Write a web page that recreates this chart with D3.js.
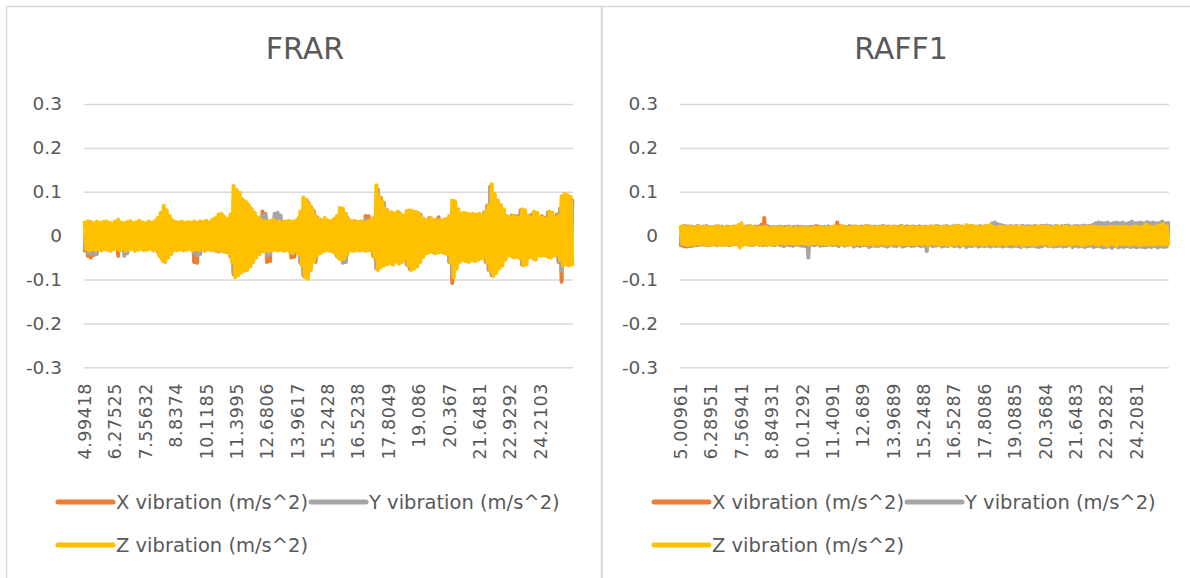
<!DOCTYPE html>
<html>
<head>
<meta charset="utf-8">
<script src="https://cdn.jsdelivr.net/npm/d3@7"></script>
<style>
  html, body { margin: 0; padding: 0; background: #ffffff; }
  svg { display: block; }
  text { font-family: "DejaVu Sans", "Liberation Sans", sans-serif; fill: #595959; }
</style>
</head>
<body>
<svg id="chart" width="1190" height="578"></svg>
<script>
// ---- FRAR: acceleration samples per axis (m/s^2) ----
const frarTicks = ["4.99418","6.27525","7.55632","8.8374","10.1185","11.3995","12.6806","13.9617",
  "15.2428","16.5238","17.8049","19.086","20.367","21.6481","22.9292","24.2103"];

const frarX = [
  -0.034,0.024,-0.046,0.026,-0.050,0.025,-0.044,0.027,-0.036,0.024,
  -0.028,0.026,-0.027,0.028,-0.026,0.025,-0.028,0.027,-0.025,0.026,
  -0.027,0.028,-0.046,0.029,-0.026,0.027,-0.028,0.026,-0.027,0.028,
  -0.026,0.027,-0.028,0.025,-0.027,0.028,-0.026,0.027,-0.028,0.026,
  -0.027,0.026,-0.028,0.027,-0.026,0.028,-0.027,0.030,-0.036,0.038,
  -0.048,0.045,-0.058,0.050,-0.046,0.040,-0.038,0.034,-0.030,0.028,
  -0.027,0.028,-0.026,0.027,-0.028,0.026,-0.027,0.028,-0.026,0.027,
  -0.028,0.027,-0.060,0.028,-0.062,0.026,-0.028,0.027,-0.026,0.028,
  -0.027,0.028,-0.026,0.030,-0.030,0.032,-0.034,0.035,-0.036,0.040,
  -0.034,0.045,-0.036,0.036,-0.035,0.035,-0.048,0.045,-0.088,0.100,
  -0.085,0.092,-0.080,0.084,-0.074,0.078,-0.072,0.072,-0.066,0.062,
  -0.055,0.052,-0.046,0.042,-0.038,0.036,-0.034,0.055,-0.032,0.050,
  -0.060,0.030,-0.058,0.031,-0.030,0.032,-0.029,0.030,-0.031,0.029,
  -0.030,0.031,-0.029,0.030,-0.031,0.032,-0.050,0.030,-0.048,0.031,
  -0.036,0.040,-0.062,0.052,-0.090,0.080,-0.092,0.076,-0.074,0.065,
  -0.055,0.055,-0.060,0.042,-0.038,0.036,-0.033,0.032,-0.032,0.031,
  -0.032,0.031,-0.033,0.034,-0.036,0.038,-0.046,0.044,-0.052,0.058,
  -0.048,0.048,-0.040,0.040,-0.032,0.033,-0.030,0.032,-0.031,0.030,
  -0.031,0.030,-0.032,0.031,-0.030,0.045,-0.031,0.044,-0.032,0.032,
  -0.046,0.038,-0.074,0.105,-0.070,0.086,-0.066,0.075,-0.060,0.058,
  -0.060,0.050,-0.062,0.050,-0.056,0.048,-0.060,0.052,-0.056,0.046,
  -0.050,0.044,-0.066,0.054,-0.076,0.056,-0.073,0.053,-0.068,0.052,
  -0.058,0.048,-0.046,0.038,-0.038,0.034,-0.036,0.040,-0.035,0.034,
  -0.038,0.035,-0.036,0.042,-0.035,0.034,-0.038,0.036,-0.040,0.036,
  -0.060,0.043,-0.108,0.078,-0.074,0.058,-0.058,0.048,-0.052,0.050,
  -0.056,0.049,-0.058,0.047,-0.054,0.048,-0.056,0.046,-0.053,0.048,
  -0.050,0.045,-0.048,0.053,-0.060,0.068,-0.078,0.112,-0.090,0.093,
  -0.083,0.078,-0.073,0.068,-0.066,0.058,-0.053,0.045,-0.044,0.040,
  -0.044,0.046,-0.048,0.045,-0.046,0.044,-0.050,0.058,-0.066,0.056,
  -0.063,0.044,-0.048,0.046,-0.046,0.050,-0.053,0.050,-0.044,0.040,
  -0.044,0.044,-0.042,0.040,-0.046,0.053,-0.048,0.050,-0.044,0.042,
  -0.040,0.048,-0.060,0.062,-0.105,0.085,-0.064,0.084,-0.066,0.082,
  -0.064,0.080
];

const frarY = [
  -0.030,0.024,-0.040,0.026,-0.042,0.025,-0.040,0.026,-0.042,0.024,
  -0.027,0.025,-0.028,0.026,-0.027,0.025,-0.028,0.026,-0.026,0.025,
  -0.028,0.026,-0.030,0.027,-0.032,0.026,-0.046,0.027,-0.040,0.026,
  -0.027,0.026,-0.028,0.027,-0.026,0.028,-0.027,0.026,-0.028,0.027,
  -0.026,0.027,-0.027,0.026,-0.028,0.027,-0.026,0.030,-0.034,0.036,
  -0.046,0.042,-0.054,0.048,-0.044,0.038,-0.036,0.032,-0.029,0.027,
  -0.028,0.027,-0.027,0.028,-0.026,0.027,-0.028,0.026,-0.027,0.028,
  -0.027,0.026,-0.040,0.027,-0.045,0.026,-0.042,0.027,-0.028,0.026,
  -0.028,0.027,-0.027,0.029,-0.029,0.031,-0.032,0.034,-0.034,0.038,
  -0.033,0.043,-0.035,0.035,-0.034,0.034,-0.046,0.043,-0.084,0.096,
  -0.082,0.088,-0.077,0.080,-0.071,0.075,-0.069,0.069,-0.063,0.060,
  -0.052,0.050,-0.044,0.040,-0.036,0.035,-0.033,0.045,-0.031,0.048,
  -0.045,0.029,-0.044,0.030,-0.029,0.050,-0.028,0.052,-0.030,0.046,
  -0.029,0.030,-0.028,0.029,-0.030,0.031,-0.040,0.029,-0.038,0.030,
  -0.034,0.038,-0.060,0.050,-0.086,0.077,-0.089,0.073,-0.071,0.062,
  -0.053,0.052,-0.050,0.040,-0.036,0.035,-0.032,0.031,-0.031,0.030,
  -0.031,0.030,-0.032,0.033,-0.035,0.036,-0.044,0.042,-0.050,0.055,
  -0.062,0.046,-0.060,0.038,-0.031,0.032,-0.029,0.031,-0.030,0.029,
  -0.030,0.029,-0.031,0.030,-0.029,0.036,-0.030,0.035,-0.031,0.031,
  -0.044,0.037,-0.071,0.100,-0.067,0.082,-0.063,0.072,-0.058,0.056,
  -0.058,0.048,-0.060,0.048,-0.054,0.046,-0.058,0.050,-0.054,0.044,
  -0.048,0.042,-0.063,0.052,-0.073,0.054,-0.070,0.051,-0.065,0.050,
  -0.056,0.046,-0.044,0.037,-0.037,0.033,-0.035,0.038,-0.034,0.033,
  -0.037,0.034,-0.035,0.036,-0.034,0.033,-0.037,0.035,-0.039,0.035,
  -0.058,0.042,-0.090,0.075,-0.071,0.056,-0.056,0.046,-0.050,0.048,
  -0.054,0.047,-0.056,0.045,-0.052,0.046,-0.054,0.044,-0.051,0.046,
  -0.048,0.043,-0.046,0.051,-0.058,0.065,-0.075,0.107,-0.086,0.089,
  -0.080,0.075,-0.070,0.065,-0.063,0.056,-0.051,0.043,-0.042,0.038,
  -0.042,0.044,-0.046,0.043,-0.044,0.042,-0.048,0.055,-0.063,0.054,
  -0.060,0.042,-0.046,0.044,-0.044,0.048,-0.051,0.048,-0.042,0.038,
  -0.042,0.042,-0.040,0.038,-0.044,0.051,-0.046,0.048,-0.042,0.040,
  -0.038,0.046,-0.058,0.060,-0.080,0.082,-0.061,0.082,-0.063,0.080,
  -0.061,0.079
];

const frarZ = [
  0.030,-0.031,0.033,-0.034,0.031,-0.030,0.028,-0.033,0.032,-0.031,
  0.029,-0.034,0.031,-0.030,0.033,-0.032,0.030,-0.035,0.028,-0.031,
  0.032,-0.030,0.036,-0.033,0.030,-0.031,0.029,-0.034,0.031,-0.032,
  0.033,-0.030,0.029,-0.035,0.031,-0.032,0.034,-0.030,0.030,-0.033,
  0.028,-0.032,0.032,-0.030,0.030,-0.034,0.033,-0.031,0.040,-0.045,
  0.052,-0.055,0.068,-0.060,0.058,-0.050,0.045,-0.042,0.035,-0.033,
  0.031,-0.033,0.030,-0.031,0.032,-0.034,0.029,-0.032,0.031,-0.030,
  0.030,-0.034,0.032,-0.031,0.029,-0.033,0.033,-0.030,0.031,-0.035,
  0.034,-0.031,0.030,-0.033,0.036,-0.032,0.040,-0.034,0.048,-0.033,
  0.050,-0.036,0.042,-0.037,0.038,-0.040,0.048,-0.060,0.113,-0.095,
  0.104,-0.090,0.098,-0.084,0.082,-0.080,0.078,-0.078,0.070,-0.070,
  0.060,-0.060,0.052,-0.050,0.042,-0.042,0.036,-0.036,0.033,-0.034,
  0.032,-0.036,0.034,-0.033,0.036,-0.032,0.031,-0.034,0.033,-0.032,
  0.030,-0.035,0.032,-0.033,0.034,-0.036,0.031,-0.040,0.033,-0.034,
  0.036,-0.042,0.055,-0.068,0.087,-0.095,0.082,-0.098,0.072,-0.078,
  0.060,-0.058,0.045,-0.045,0.038,-0.040,0.034,-0.036,0.040,-0.033,
  0.035,-0.034,0.033,-0.036,0.038,-0.040,0.045,-0.050,0.063,-0.055,
  0.062,-0.052,0.050,-0.042,0.036,-0.034,0.032,-0.035,0.034,-0.033,
  0.031,-0.034,0.033,-0.032,0.030,-0.035,0.032,-0.033,0.034,-0.036,
  0.040,-0.050,0.115,-0.078,0.090,-0.072,0.078,-0.068,0.060,-0.065,
  0.052,-0.062,0.054,-0.066,0.050,-0.058,0.055,-0.064,0.048,-0.060,
  0.046,-0.052,0.056,-0.068,0.058,-0.078,0.055,-0.075,0.054,-0.070,
  0.050,-0.060,0.040,-0.048,0.036,-0.040,0.034,-0.038,0.040,-0.036,
  0.035,-0.040,0.033,-0.038,0.036,-0.037,0.034,-0.040,0.038,-0.042,
  0.045,-0.062,0.080,-0.095,0.078,-0.075,0.060,-0.060,0.050,-0.055,
  0.052,-0.058,0.050,-0.060,0.048,-0.056,0.050,-0.058,0.047,-0.055,
  0.050,-0.052,0.046,-0.050,0.055,-0.062,0.070,-0.080,0.117,-0.092,
  0.095,-0.085,0.080,-0.075,0.070,-0.068,0.060,-0.055,0.045,-0.045,
  0.040,-0.046,0.045,-0.050,0.042,-0.048,0.040,-0.052,0.060,-0.068,
  0.058,-0.065,0.045,-0.050,0.040,-0.048,0.055,-0.055,0.052,-0.045,
  0.042,-0.046,0.040,-0.044,0.038,-0.048,0.055,-0.050,0.052,-0.046,
  0.040,-0.042,0.045,-0.055,0.090,-0.068,0.095,-0.065,0.092,-0.068,
  0.088,-0.066
];

// ---- RAFF1: acceleration samples per axis (m/s^2) ----
const raffTicks = ["5.00961","6.28951","7.56941","8.84931","10.1292","11.4091","12.689","13.9689",
  "15.2488","16.5287","17.8086","19.0885","20.3684","21.6483","22.9282","24.2081"];

const raffX = [
  -0.022,0.020,-0.024,0.018,-0.025,0.021,-0.024,0.019,-0.023,0.018,
  -0.022,0.021,-0.020,0.018,-0.021,0.019,-0.018,0.020,-0.022,0.019,
  -0.020,0.018,-0.019,0.020,-0.018,0.021,-0.020,0.019,-0.021,0.018,
  -0.019,0.020,-0.021,0.018,-0.020,0.019,-0.018,0.020,-0.019,0.021,
  -0.020,0.018,-0.019,0.020,-0.018,0.021,-0.020,0.019,-0.021,0.020,
  -0.019,0.021,-0.020,0.025,-0.021,0.040,-0.020,0.022,-0.018,0.019,
  -0.020,0.018,-0.021,0.019,-0.018,0.020,-0.022,0.018,-0.019,0.020,
  -0.021,0.019,-0.020,0.018,-0.022,0.020,-0.019,0.021,-0.020,0.018,
  -0.023,0.019,-0.020,0.018,-0.021,0.019,-0.018,0.020,-0.019,0.022,
  -0.020,0.019,-0.021,0.018,-0.022,0.020,-0.019,0.021,-0.020,0.018,
  -0.020,0.021,-0.019,0.030,-0.020,0.021,-0.019,0.021,-0.020,0.018,
  -0.021,0.020,-0.019,0.021,-0.018,0.020,-0.022,0.019,-0.020,0.021,
  -0.018,0.020,-0.022,0.019,-0.020,0.021,-0.019,0.018,-0.023,0.020,
  -0.021,0.019,-0.020,0.022,-0.019,0.018,-0.020,0.021,-0.022,0.019,
  -0.020,0.018,-0.021,0.020,-0.019,0.022,-0.024,0.019,-0.020,0.021,
  -0.018,0.020,-0.022,0.019,-0.021,0.018,-0.020,0.021,-0.019,0.020,
  -0.021,0.019,-0.020,0.018,-0.022,0.020,-0.019,0.021,-0.020,0.019,
  -0.018,0.020,-0.021,0.019,-0.020,0.018,-0.022,0.020,-0.019,0.021,
  -0.020,0.019,-0.018,0.022,-0.021,0.020,-0.019,0.018,-0.020,0.021,
  -0.022,0.019,-0.020,0.021,-0.019,0.020,-0.021,0.018,-0.020,0.019,
  -0.019,0.021,-0.020,0.018,-0.022,0.020,-0.019,0.021,-0.020,0.018,
  -0.021,0.020,-0.019,0.022,-0.020,0.018,-0.021,0.019,-0.022,0.020,
  -0.020,0.019,-0.021,0.018,-0.020,0.022,-0.019,0.020,-0.021,0.019,
  -0.022,0.020,-0.019,0.021,-0.020,0.018,-0.021,0.019,-0.020,0.022,
  -0.019,0.020,-0.021,0.018,-0.022,0.019,-0.020,0.021,-0.019,0.020,
  -0.021,0.019,-0.020,0.022,-0.018,0.020,-0.021,0.019,-0.020,0.018,
  -0.022,0.020,-0.019,0.021,-0.020,0.019,-0.021,0.018,-0.020,0.022,
  -0.019,0.021,-0.020,0.018,-0.021,0.020,-0.019,0.022,-0.020,0.019,
  -0.021,0.018,-0.020,0.019,-0.022,0.021,-0.019,0.020,-0.021,0.018,
  -0.020,0.022,-0.019,0.020,-0.021,0.019,-0.020,0.021,-0.022,0.019,
  -0.020,0.021,-0.019,0.018,-0.021,0.020,-0.022,0.019,-0.020,0.021,
  -0.019,0.020,-0.021,0.019,-0.020,0.022,-0.019,0.021,-0.020,0.019,
  -0.021,0.020
];

const raffY = [
  -0.020,0.021,-0.019,0.022,-0.021,0.020,-0.018,0.021,-0.022,0.019,
  -0.020,0.022,-0.021,0.020,-0.019,0.021,-0.020,0.022,-0.018,0.020,
  -0.021,0.019,-0.020,0.021,-0.022,0.020,-0.019,0.021,-0.020,0.018,
  -0.021,0.020,-0.022,0.019,-0.020,0.021,-0.019,0.020,-0.021,0.019,
  -0.022,0.020,-0.019,0.021,-0.020,0.022,-0.021,0.019,-0.020,0.021,
  -0.019,0.020,-0.021,0.019,-0.022,0.020,-0.019,0.021,-0.020,0.019,
  -0.021,0.020,-0.022,0.019,-0.020,0.021,-0.019,0.020,-0.024,0.019,
  -0.020,0.021,-0.022,0.019,-0.023,0.020,-0.021,0.019,-0.022,0.020,
  -0.022,0.020,-0.024,0.019,-0.050,0.020,-0.021,0.020,-0.022,0.018,
  -0.020,0.021,-0.023,0.019,-0.021,0.020,-0.022,0.021,-0.020,0.019,
  -0.022,0.019,-0.021,0.020,-0.024,0.021,-0.020,0.019,-0.023,0.020,
  -0.021,0.022,-0.020,0.019,-0.025,0.021,-0.022,0.020,-0.024,0.019,
  -0.022,0.021,-0.020,0.022,-0.026,0.020,-0.023,0.021,-0.022,0.020,
  -0.024,0.021,-0.022,0.020,-0.023,0.021,-0.025,0.019,-0.022,0.020,
  -0.023,0.021,-0.024,0.020,-0.022,0.021,-0.025,0.020,-0.023,0.021,
  -0.022,0.020,-0.024,0.021,-0.023,0.020,-0.022,0.021,-0.024,0.020,
  -0.023,0.021,-0.035,0.020,-0.022,0.021,-0.024,0.020,-0.023,0.022,
  -0.022,0.020,-0.025,0.021,-0.023,0.022,-0.024,0.020,-0.022,0.021,
  -0.024,0.022,-0.023,0.020,-0.025,0.021,-0.022,0.020,-0.026,0.021,
  -0.023,0.022,-0.024,0.021,-0.022,0.020,-0.025,0.022,-0.023,0.021,
  -0.024,0.022,-0.023,0.021,-0.025,0.028,-0.023,0.030,-0.024,0.026,
  -0.023,0.024,-0.025,0.022,-0.023,0.021,-0.024,0.022,-0.025,0.021,
  -0.023,0.022,-0.024,0.021,-0.026,0.022,-0.023,0.021,-0.025,0.022,
  -0.024,0.021,-0.023,0.022,-0.025,0.021,-0.026,0.022,-0.024,0.021,
  -0.022,0.023,-0.024,0.022,-0.023,0.021,-0.025,0.022,-0.024,0.020,
  -0.023,0.022,-0.025,0.021,-0.024,0.023,-0.022,0.021,-0.026,0.022,
  -0.023,0.022,-0.025,0.021,-0.024,0.023,-0.026,0.022,-0.024,0.021,
  -0.023,0.024,-0.026,0.028,-0.024,0.030,-0.025,0.029,-0.027,0.028,
  -0.026,0.030,-0.025,0.027,-0.028,0.029,-0.024,0.030,-0.027,0.028,
  -0.025,0.030,-0.026,0.027,-0.024,0.029,-0.026,0.032,-0.025,0.028,
  -0.027,0.029,-0.025,0.030,-0.026,0.028,-0.027,0.031,-0.025,0.029,
  -0.026,0.030,-0.024,0.028,-0.027,0.029,-0.025,0.032,-0.026,0.028,
  -0.025,0.029
];

const raffZ = [
  0.020,-0.018,0.022,-0.020,0.018,-0.022,0.021,-0.019,0.017,-0.021,
  0.019,-0.018,0.022,-0.020,0.018,-0.017,0.021,-0.022,0.020,-0.019,
  0.018,-0.021,0.020,-0.018,0.022,-0.020,0.019,-0.021,0.017,-0.020,
  0.021,-0.019,0.018,-0.022,0.020,-0.019,0.021,-0.018,0.024,-0.027,
  0.028,-0.022,0.020,-0.019,0.018,-0.021,0.022,-0.018,0.020,-0.019,
  0.017,-0.020,0.019,-0.021,0.018,-0.017,0.020,-0.022,0.016,-0.018,
  0.019,-0.020,0.017,-0.019,0.018,-0.018,0.020,-0.017,0.016,-0.019,
  0.018,-0.017,0.019,-0.018,0.015,-0.018,0.018,-0.020,0.016,-0.017,
  0.019,-0.018,0.017,-0.019,0.018,-0.020,0.016,-0.018,0.019,-0.017,
  0.018,-0.019,0.020,-0.018,0.017,-0.019,0.019,-0.020,0.018,-0.018,
  0.020,-0.019,0.021,-0.018,0.019,-0.020,0.022,-0.018,0.020,-0.021,
  0.019,-0.020,0.018,-0.021,0.020,-0.019,0.021,-0.018,0.019,-0.020,
  0.018,-0.019,0.022,-0.020,0.019,-0.018,0.020,-0.021,0.018,-0.019,
  0.020,-0.021,0.019,-0.018,0.021,-0.020,0.018,-0.019,0.020,-0.021,
  0.021,-0.018,0.019,-0.020,0.018,-0.021,0.022,-0.019,0.017,-0.020,
  0.019,-0.020,0.021,-0.019,0.018,-0.021,0.020,-0.018,0.019,-0.020,
  0.020,-0.018,0.019,-0.022,0.021,-0.018,0.020,-0.019,0.022,-0.020,
  0.018,-0.021,0.020,-0.019,0.021,-0.020,0.019,-0.022,0.020,-0.019,
  0.019,-0.021,0.023,-0.018,0.020,-0.022,0.019,-0.020,0.024,-0.019,
  0.021,-0.020,0.022,-0.021,0.020,-0.019,0.021,-0.020,0.019,-0.021,
  0.021,-0.020,0.022,-0.018,0.025,-0.021,0.020,-0.019,0.018,-0.022,
  0.020,-0.019,0.021,-0.020,0.019,-0.021,0.020,-0.018,0.021,-0.020,
  0.019,-0.020,0.021,-0.018,0.020,-0.023,0.019,-0.020,0.018,-0.021,
  0.020,-0.019,0.018,-0.021,0.022,-0.020,0.019,-0.018,0.021,-0.020,
  0.020,-0.019,0.021,-0.022,0.018,-0.020,0.019,-0.021,0.022,-0.018,
  0.019,-0.020,0.020,-0.019,0.021,-0.020,0.018,-0.021,0.020,-0.019,
  0.020,-0.019,0.018,-0.021,0.020,-0.022,0.019,-0.020,0.021,-0.019,
  0.020,-0.018,0.021,-0.020,0.019,-0.022,0.020,-0.019,0.018,-0.020,
  0.018,-0.023,0.020,-0.019,0.021,-0.020,0.019,-0.024,0.020,-0.018,
  0.019,-0.020,0.021,-0.019,0.020,-0.021,0.018,-0.020,0.021,-0.019,
  0.021,-0.020,0.019,-0.022,0.020,-0.019,0.025,-0.021,0.022,-0.020,
  0.020,-0.021,0.019,-0.020,0.022,-0.019,0.024,-0.021,0.026,-0.020,
  0.021,-0.019
];

const yTicks = [0.3, 0.2, 0.1, 0, -0.1, -0.2, -0.3];
const seriesNames = ["X vibration (m/s^2)", "Y vibration (m/s^2)", "Z vibration (m/s^2)"];
const seriesColors = ["#ED7D31", "#A5A5A5", "#FFC000"];
const labelEvery = 20;

const svg = d3.select("#chart");

// panel frames
svg.append("rect").attr("x", 6.5).attr("y", 6.5).attr("width", 595).attr("height", 600)
  .attr("fill", "none").attr("stroke", "#d9d9d9").attr("stroke-width", 1.5);
svg.append("rect").attr("x", 602).attr("y", 6.5).attr("width", 600).attr("height", 600)
  .attr("fill", "none").attr("stroke", "#d9d9d9").attr("stroke-width", 1.5);

function drawPanel(offsetX, title, ticks, series) {
  const g = svg.append("g").attr("transform", `translate(${offsetX},0)`);
  const plotLeft = 84, plotRight = 573, plotTop = 104, plotBottom = 367.3;
  const n = series[0].length;

  const x = d3.scaleBand().domain(d3.range(n)).range([plotLeft, plotRight]);
  const y = d3.scaleLinear().domain([-0.3, 0.3]).range([plotBottom, plotTop]);

  g.append("text").attr("x", 305).attr("y", 59).attr("text-anchor", "middle")
    .style("font-size", "30px").text(title);

  // horizontal gridlines and value labels
  const yAxis = d3.axisLeft(y).tickValues(yTicks).tickSize(-(plotRight - plotLeft))
    .tickPadding(22).tickFormat(d => String(Math.round(d * 10) / 10));
  const ya = g.append("g").attr("transform", `translate(${plotLeft},0)`).call(yAxis);
  ya.select(".domain").remove();
  ya.selectAll(".tick line").attr("stroke", "#d9d9d9").attr("stroke-width", 1.5);
  ya.selectAll(".tick text").style("font-size", "18.5px").attr("fill", "#595959")
    .style("font-family", "DejaVu Sans, sans-serif");

  // time labels, rotated
  const xAxis = d3.axisBottom(x)
    .tickValues(d3.range(0, n, labelEvery).slice(0, ticks.length))
    .tickSize(0).tickFormat(i => ticks[i / labelEvery]);
  const xa = g.append("g").attr("transform", `translate(0,383)`).call(xAxis);
  xa.select(".domain").remove();
  xa.selectAll(".tick text")
    .attr("transform", "rotate(-90)")
    .attr("y", 0).attr("x", 0).attr("dy", "0.36em")
    .attr("text-anchor", "end")
    .style("font-size", "17.5px").style("letter-spacing", "0.6px").attr("fill", "#595959")
    .style("font-family", "DejaVu Sans, sans-serif");

  const line = d3.line().x((d, i) => x(i) + x.bandwidth() / 2).y(d => y(d));
  series.forEach((s, k) => {
    g.append("path").datum(s).attr("d", line)
      .attr("fill", "none").attr("stroke", seriesColors[k])
      .attr("stroke-width", 4).attr("stroke-linejoin", "round").attr("stroke-linecap", "round");
  });

  // legend
  const legendPos = [[58, 502], [311, 502], [58, 545]];
  seriesNames.forEach((name, k) => {
    const [lx, ly] = legendPos[k];
    g.append("line").attr("x1", lx).attr("x2", lx + 55).attr("y1", ly).attr("y2", ly)
      .attr("stroke", seriesColors[k]).attr("stroke-width", 5).attr("stroke-linecap", "round");
    g.append("text").attr("x", lx + 58).attr("y", ly).attr("dy", "0.36em")
      .style("font-size", "19.5px").text(name);
  });
}

drawPanel(0, "FRAR", frarTicks, [frarX, frarY, frarZ]);
drawPanel(596, "RAFF1", raffTicks, [raffX, raffY, raffZ]);
</script>
</body>
</html>
